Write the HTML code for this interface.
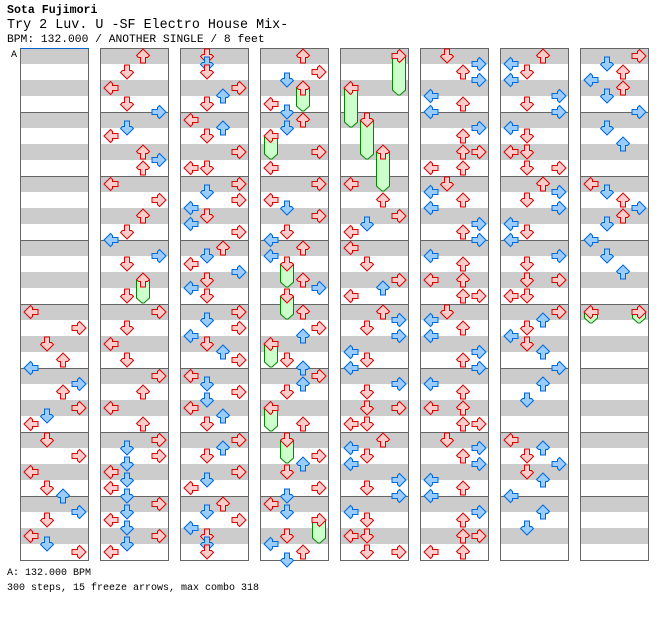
<!DOCTYPE html>
<html><head><meta charset="utf-8">
<style>
html,body{margin:0;padding:0;background:#fff;width:672px;height:620px;overflow:hidden}
.t{position:absolute;left:7px;font-family:"Liberation Mono",monospace;color:#000;white-space:pre;margin:0}
</style></head>
<body>
<div class="t" style="top:4px;font-size:11.6px;font-weight:bold">Sota Fujimori</div>
<div class="t" style="top:18px;font-size:13.4px">Try 2 Luv. U -SF Electro House Mix-</div>
<div class="t" style="top:34px;font-size:11.3px">BPM: 132.000 / ANOTHER SINGLE / 8 feet</div>
<svg id="chart" width="672" height="620" style="position:absolute;left:0;top:0" xmlns="http://www.w3.org/2000/svg"></svg>
<div class="t" style="top:568px;font-size:10px">A: 132.000 BPM</div>
<div class="t" style="top:583px;font-size:10px">300 steps, 15 freeze arrows, max combo 318</div>
<script>
const laneNames = ['L','D','U','R'];
const steps0 = [[32,'L'],[34,'R'],[36,'D'],[38,'U'],[39,'L'],[41,'R'],[42,'U'],[44,'R'],[45,'D'],[46,'L'],[48,'D'],[50,'R'],[52,'L'],[54,'D'],[55,'U'],[57,'R'],[58,'D'],[60,'L'],[61,'D'],[62,'R']];
const steps1 = [[0,'U'],[2,'D'],[4,'L'],[6,'D'],[7,'R'],[9,'D'],[10,'L'],[12,'U'],[13,'R'],[14,'U'],[16,'L'],[18,'R'],[20,'U'],[22,'D'],[23,'L'],[25,'R'],[26,'D'],[28,'U'],[30,'D'],[32,'R'],[34,'D'],[36,'L'],[38,'D'],[40,'R'],[42,'U'],[44,'L'],[46,'U'],[48,'R'],[49,'D'],[50,'R'],[51,'D'],[52,'L'],[53,'D'],[54,'L'],[55,'D'],[56,'R'],[57,'D'],[58,'L'],[59,'D'],[60,'R'],[61,'D'],[62,'L']];
const steps2 = [[0,'D'],[1,'D'],[2,'D'],[4,'R'],[5,'U'],[6,'D'],[8,'L'],[9,'U'],[10,'D'],[12,'R'],[14,'L'],[14,'D'],[16,'R'],[17,'D'],[18,'R'],[19,'L'],[20,'D'],[21,'L'],[22,'R'],[24,'U'],[25,'D'],[26,'L'],[27,'R'],[28,'D'],[29,'L'],[30,'D'],[32,'R'],[33,'D'],[34,'R'],[35,'L'],[36,'D'],[37,'U'],[38,'R'],[40,'L'],[41,'D'],[42,'R'],[43,'D'],[44,'L'],[45,'U'],[46,'D'],[48,'R'],[49,'U'],[50,'D'],[52,'R'],[53,'D'],[54,'L'],[56,'U'],[57,'D'],[58,'R'],[59,'L'],[60,'D'],[61,'D'],[62,'D']];
const steps3 = [[0,'U'],[2,'R'],[3,'D'],[4,'U'],[6,'L'],[7,'D'],[8,'U'],[9,'D'],[10,'L'],[12,'R'],[14,'L'],[16,'R'],[18,'L'],[19,'D'],[20,'R'],[22,'D'],[23,'L'],[24,'U'],[25,'L'],[26,'D'],[28,'U'],[29,'R'],[30,'D'],[32,'U'],[34,'R'],[35,'U'],[36,'L'],[38,'D'],[39,'U'],[40,'R'],[41,'U'],[42,'D'],[44,'L'],[46,'U'],[48,'D'],[50,'R'],[51,'U'],[52,'D'],[54,'R'],[55,'D'],[56,'L'],[57,'D'],[58,'R'],[60,'D'],[61,'L'],[62,'U'],[63,'D']];
const steps4 = [[0,'R'],[4,'L'],[8,'D'],[12,'U'],[16,'L'],[18,'U'],[20,'R'],[21,'D'],[22,'L'],[24,'L'],[26,'D'],[28,'R'],[29,'U'],[30,'L'],[32,'U'],[33,'R'],[34,'D'],[35,'R'],[37,'L'],[38,'D'],[39,'L'],[41,'R'],[42,'D'],[44,'D'],[44,'R'],[46,'L'],[46,'D'],[48,'U'],[49,'L'],[50,'D'],[51,'L'],[53,'R'],[54,'D'],[55,'R'],[57,'L'],[58,'D'],[60,'L'],[60,'D'],[62,'D'],[62,'R']];
const steps5 = [[0,'D'],[1,'R'],[2,'U'],[3,'R'],[5,'L'],[6,'U'],[7,'L'],[9,'R'],[10,'U'],[12,'U'],[12,'R'],[14,'L'],[14,'U'],[16,'D'],[17,'L'],[18,'U'],[19,'L'],[21,'R'],[22,'U'],[23,'R'],[25,'L'],[26,'U'],[28,'L'],[28,'U'],[30,'U'],[30,'R'],[32,'D'],[33,'L'],[34,'U'],[35,'L'],[37,'R'],[38,'U'],[39,'R'],[41,'L'],[42,'U'],[44,'L'],[44,'U'],[46,'U'],[46,'R'],[48,'D'],[49,'R'],[50,'U'],[51,'R'],[53,'L'],[54,'U'],[55,'L'],[57,'R'],[58,'U'],[60,'U'],[60,'R'],[62,'L'],[62,'U']];
const steps6 = [[0,'U'],[1,'L'],[2,'D'],[3,'L'],[5,'R'],[6,'D'],[7,'R'],[9,'L'],[10,'D'],[12,'L'],[12,'D'],[14,'D'],[14,'R'],[16,'U'],[17,'R'],[18,'D'],[19,'R'],[21,'L'],[22,'D'],[23,'L'],[25,'R'],[26,'D'],[28,'D'],[28,'R'],[30,'L'],[30,'D'],[32,'R'],[33,'U'],[34,'D'],[35,'L'],[36,'D'],[37,'U'],[39,'R'],[41,'U'],[43,'D'],[48,'L'],[49,'U'],[50,'D'],[51,'R'],[52,'D'],[53,'U'],[55,'L'],[57,'U'],[59,'D']];
const steps7 = [[0,'R'],[1,'D'],[2,'U'],[3,'L'],[4,'U'],[5,'D'],[7,'R'],[9,'D'],[11,'U'],[16,'L'],[17,'D'],[18,'U'],[19,'R'],[20,'U'],[21,'D'],[23,'L'],[25,'D'],[27,'U'],[32,'L'],[32,'R']];
const freezes = [[1,28,'U',30],[3,4,'U',6],[3,10,'L',12],[3,26,'D',28],[3,30,'D',32],[3,36,'L',38],[3,44,'L',46],[3,48,'D',50],[3,58,'R',60],[4,0,'R',4],[4,4,'L',8],[4,8,'D',12],[4,12,'U',16],[7,32,'L',32.5],[7,32,'R',32.5]];
const allSteps = [steps0,steps1,steps2,steps3,steps4,steps5,steps6,steps7];

const NS='http://www.w3.org/2000/svg';
const svg=document.getElementById('chart');
const TOP=48, SLOT=8, COLW=80, COL0=20, MEAS=8, SLOTS=64;
function colX(c){return COL0+c*COLW;}
function slotY(s){return TOP+s*SLOT;}
function laneX(c,l){return colX(c)+3+16*laneNames.indexOf(l);}
const rot={L:0,U:90,R:180,D:270};
function mk(tag,attrs){const e=document.createElementNS(NS,tag);for(const k in attrs)e.setAttribute(k,attrs[k]);return e;}

for(let c=0;c<8;c++){
  const g=mk('g',{});
  
  
  svg.appendChild(g);
  const x=colX(c);
  for(let b=0;b<MEAS*4;b+=2){
    const r=mk('rect',{x:x,y:TOP+b*16,width:68,height:16,fill:'#cccccc'});
    
    
    g.appendChild(r);
  }
  for(let m=1;m<MEAS;m++){
    const ln=mk('line',{x1:x,x2:x+68,y1:TOP+m*64+0.5,y2:TOP+m*64+0.5,stroke:'#666',"stroke-width":1});
    
    
    g.appendChild(ln);
  }
  const bx=mk('rect',{x:x+0.5,y:TOP+0.5,width:68,height:512,fill:'none',stroke:'#666',"stroke-width":1});
  
  
  g.appendChild(bx);
  // freeze bodies
  freezes.filter(f=>f[0]===c).forEach(f=>{
    const lx=laneX(c,f[2]), y0=slotY(f[1])+8, yb=slotY(f[3])+16;
    const p=mk('polygon',{points:`${lx+1.5},${y0} ${lx+14.5},${y0} ${lx+14.5},${yb-6} ${lx+9},${yb-1} ${lx+7},${yb-1} ${lx+1.5},${yb-6}`,fill:'#ccffcc',stroke:'#008800',"stroke-width":1});
    
    
    g.appendChild(p);
  });
  // arrows
  allSteps[c].forEach(s=>{
    const lx=laneX(c,s[1]), y=slotY(s[0]);
    const blue = s[0]%2===1;
    const p=mk('polygon',{points:'1,8 7.5,1.5 9.5,3.5 9.5,5.5 15,5.5 15,10.5 9.5,10.5 9.5,12.5 7.5,14.5',
      fill:blue?'#99ccff':'#ffcccc',stroke:blue?'#0066dd':'#dd0000',"stroke-width":1,
      transform:`translate(${lx},${y}) rotate(${rot[s[1]]} 8 8)`});
    
    
    g.appendChild(p);
  });
}
const bl=mk('line',{x1:20,x2:89,y1:48.5,y2:48.5,stroke:'#0066cc',"stroke-width":1});


svg.appendChild(bl);
const tA=mk('text',{x:11,y:57,"font-family":'Liberation Mono, monospace',"font-size":10,fill:'#000'});
tA.textContent='A';


svg.appendChild(tA);
</script>
</body></html>
